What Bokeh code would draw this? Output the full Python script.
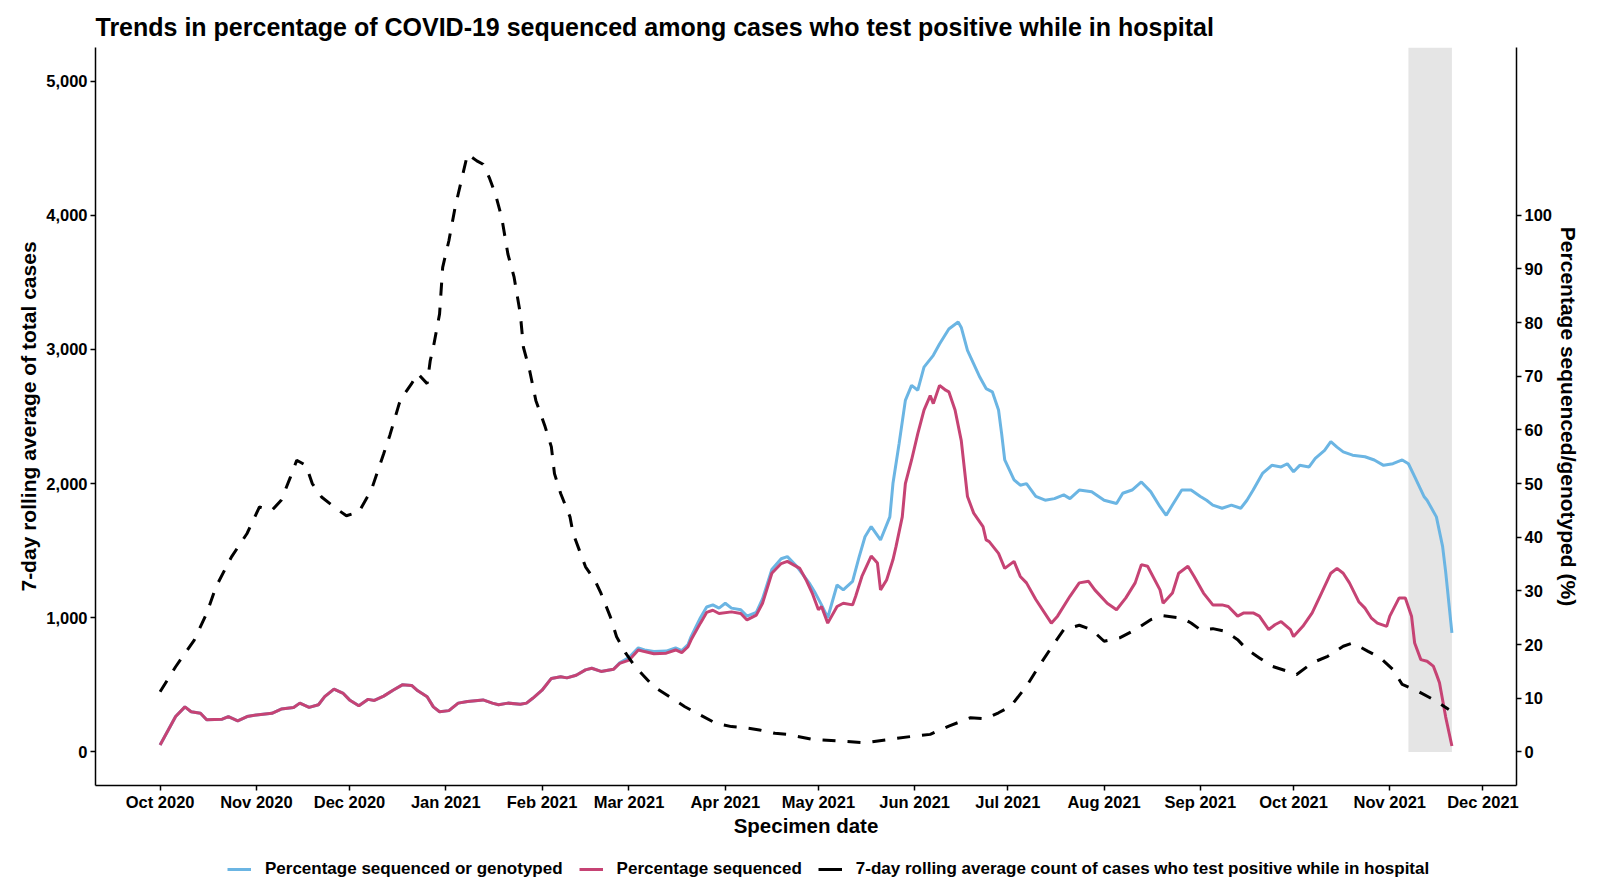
import pandas as pd
from bokeh.plotting import figure
from bokeh.layouts import column
from bokeh.models import (Range1d, LinearAxis, FixedTicker, NumeralTickFormatter,
                          DatetimeTickFormatter, Legend, LegendItem, BoxAnnotation)
from bokeh.embed import file_html
from bokeh.resources import INLINE

START = "2020-10-01"

# 7-day rolling average count of hospital-onset cases (left axis)
case_days = [0, 5, 11, 15, 18, 23, 28, 32, 36, 39, 42, 44, 47, 49, 52, 56, 60, 64, 68, 72,
             74, 77, 78, 81, 83, 86, 87, 88, 90, 91, 93, 95, 97, 99, 102, 104, 106, 108, 110,
             112, 114, 116, 117, 119, 121, 124, 126, 127, 129, 132, 133, 135, 137, 140, 142,
             145, 147, 150, 153, 156, 159, 164, 169, 174, 179, 184, 188, 193, 198, 202, 210,
             218, 227, 235, 243, 248, 254, 261, 266, 270, 274, 279, 283, 288, 291, 296, 300,
             304, 309, 314, 319, 323, 329, 332, 335, 339, 343, 347, 350, 354, 358, 363, 366,
             371, 376, 381, 384, 389, 393, 397, 400, 405, 410, 415]
case_vals = [449, 635, 834, 1032, 1231, 1454, 1628, 1826, 1800, 1876, 2050, 2174, 2136, 2000,
             1900, 1826, 1760, 1789, 1950, 2223, 2361, 2596, 2646, 2745, 2820, 2745, 2917, 3016,
             3264, 3612, 3810, 4058, 4257, 4455, 4405, 4380, 4281, 4157, 3984, 3711, 3538, 3265,
             3016, 2843, 2620, 2423, 2274, 2074, 1926, 1752, 1628, 1504, 1380, 1280, 1181, 1007,
             859, 734, 635, 561, 486, 412, 337, 275, 213, 189, 181, 164, 139, 131, 94, 82, 69,
             94, 119, 131, 193, 255, 248, 292, 342, 490, 639, 812, 911, 944, 911, 825, 850, 911,
             986, 1015, 998, 961, 911, 919, 899, 837, 763, 701, 639, 602, 577, 664, 713, 788,
             812, 750, 701, 614, 503, 453, 391, 317]

# Percentage sequenced (right axis)
seq_days = [0, 5, 8, 10, 13, 15, 20, 22, 25, 28, 31, 36, 39, 43, 45, 48, 51, 53, 56, 59, 61,
            64, 67, 69, 72, 75, 78, 81, 83, 86, 88, 90, 93, 96, 99, 104, 107, 109, 112, 116,
            118, 120, 123, 126, 129, 131, 134, 137, 139, 142, 146, 148, 151, 154, 156, 159,
            163, 166, 168, 170, 171, 174, 176, 178, 180, 184, 187, 189, 192, 194, 197, 200,
            202, 206, 208, 210, 212, 213, 215, 218, 220, 223, 224, 226, 229, 231, 232, 234,
            236, 237, 239, 240, 242, 244, 246, 248, 249, 251, 253, 254, 256, 258, 260, 262,
            265, 266, 267, 270, 272, 275, 277, 279, 282, 287, 289, 293, 296, 299, 301, 305,
            308, 311, 314, 316, 318, 322, 323, 326, 328, 331, 333, 336, 339, 342, 344, 347,
            349, 352, 354, 357, 359, 361, 364, 365, 368, 371, 374, 377, 379, 381, 383, 386,
            388, 390, 392, 395, 396, 399, 401, 403, 404, 406, 408, 410, 411, 412, 414, 416]
seq_vals = [1.3, 6.6, 8.4, 7.5, 7.2, 6.0, 6.1, 6.6, 5.8, 6.6, 6.9, 7.2, 8.0, 8.3, 9.1, 8.3,
            8.8, 10.3, 11.7, 10.9, 9.7, 8.6, 9.8, 9.6, 10.4, 11.5, 12.5, 12.4, 11.4, 10.3, 8.4,
            7.5, 7.7, 9.1, 9.4, 9.7, 9.1, 8.8, 9.1, 8.9, 9.1, 10.0, 11.5, 13.7, 14.0, 13.8,
            14.3, 15.3, 15.6, 15.0, 15.4, 16.5, 17.1, 19.0, 18.7, 18.3, 18.4, 19.0, 18.5, 19.6,
            20.9, 24.0, 26.0, 26.4, 25.8, 26.1, 25.8, 24.6, 25.5, 27.7, 33.3, 35.1, 35.5, 34.2,
            32.1, 29.6, 26.5, 27.1, 24.0, 27.1, 27.7, 27.4, 29.0, 32.7, 36.5, 35.2, 30.2, 32.1,
            35.8, 38.3, 43.8, 50.0, 54.4, 59.3, 63.7, 66.4, 64.9, 68.3, 67.4, 67.1, 63.7, 58.0,
            47.6, 44.5, 42.0, 39.5, 39.2, 37.0, 34.2, 35.5, 32.7, 31.5, 28.4, 24.0, 25.3, 29.0,
            31.5, 31.8, 30.2, 27.7, 26.5, 28.7, 31.5, 34.9, 34.6, 30.2, 27.7, 29.6, 33.3, 34.6,
            32.7, 29.6, 27.4, 27.4, 27.1, 25.3, 25.9, 25.9, 25.3, 22.8, 23.7, 24.3, 22.8, 21.5,
            23.4, 25.9, 29.6, 33.3, 34.2, 33.3, 31.5, 28.0, 26.8, 25.0, 24.0, 23.4, 25.3, 28.7,
            28.7, 25.3, 20.3, 17.2, 16.9, 16.0, 14.5, 12.9, 6.5, 1.1]

# Percentage sequenced or genotyped (right axis)
geno_days = [0, 5, 8, 10, 13, 15, 20, 22, 25, 28, 31, 36, 39, 43, 45, 48, 51, 53, 56, 59, 61,
             64, 67, 69, 72, 75, 78, 81, 83, 86, 88, 90, 93, 96, 99, 104, 107, 109, 112, 116,
             118, 120, 123, 126, 129, 131, 134, 137, 139, 142, 146, 148, 151, 154, 156, 159,
             163, 166, 168, 170, 171, 174, 176, 178, 180, 182, 184, 187, 189, 192, 194, 197,
             200, 202, 205, 209, 211, 213, 215, 218, 220, 223, 225, 227, 229, 232, 235, 236,
             238, 240, 242, 244, 246, 249, 251, 254, 257, 258, 260, 262, 264, 266, 268, 270,
             271, 272, 275, 277, 279, 282, 285, 288, 291, 293, 296, 300, 304, 308, 310, 313,
             316, 319, 322, 324, 326, 329, 332, 335, 337, 339, 342, 345, 348, 350, 352, 355,
             358, 361, 363, 365, 367, 370, 372, 375, 377, 379, 381, 384, 388, 391, 394, 397,
             400, 402, 404, 407, 408, 411, 413, 414, 416]
geno_vals = [1.3, 6.6, 8.4, 7.5, 7.2, 6.0, 6.1, 6.6, 5.8, 6.6, 6.9, 7.2, 8.0, 8.3, 9.1, 8.3,
             8.8, 10.3, 11.7, 10.9, 9.7, 8.6, 9.8, 9.6, 10.4, 11.5, 12.5, 12.4, 11.4, 10.3, 8.4,
             7.5, 7.7, 9.1, 9.4, 9.7, 9.1, 8.8, 9.1, 8.9, 9.1, 10.0, 11.5, 13.7, 14.0, 13.8,
             14.3, 15.3, 15.6, 15.0, 15.4, 16.6, 17.6, 19.4, 19.0, 18.7, 18.8, 19.4, 18.9, 20.0,
             21.5, 25.0, 27.0, 27.4, 26.8, 27.7, 26.8, 26.5, 25.3, 26.0, 28.5, 34.0, 36.0, 36.4,
             34.6, 31.5, 29.6, 27.4, 25.0, 31.1, 30.2, 31.8, 36.1, 40.1, 42.0, 39.5, 43.8, 50.0,
             57.5, 65.5, 68.3, 67.4, 71.7, 73.9, 76.0, 78.8, 80.1, 79.1, 74.8, 72.3, 69.8, 67.7,
             67.1, 63.7, 59.3, 54.4, 50.7, 49.7, 50.0, 47.6, 46.9, 47.2, 47.9, 47.2, 48.8, 48.5,
             46.9, 46.3, 48.2, 48.8, 50.3, 48.5, 45.7, 44.1, 46.0, 48.8, 48.8, 47.6, 46.9, 46.0,
             45.4, 46.0, 45.4, 46.9, 48.8, 51.9, 53.4, 53.1, 53.7, 52.2, 53.4, 53.1, 54.7, 56.2,
             57.8, 56.8, 55.9, 55.3, 55.0, 54.4, 53.4, 53.7, 54.4, 53.7, 51.3, 47.6, 46.9, 43.8,
             38.3, 33.5, 22.2]

# Shaded incomplete-data period
shade_days = [402, 416]

month_ticks = ["2020-10-01", "2020-11-01", "2020-12-01", "2021-01-01", "2021-02-01",
               "2021-03-01", "2021-04-01", "2021-05-01", "2021-06-01", "2021-07-01",
               "2021-08-01", "2021-09-01", "2021-10-01", "2021-11-01", "2021-12-01"]
left_ticks = [0, 1000, 2000, 3000, 4000, 5000]
right_ticks = [0, 10, 20, 30, 40, 50, 60, 70, 80, 90, 100]

legend_labels = ["Percentage sequenced or genotyped", "Percentage sequenced",
                 "7-day rolling average count of cases who test positive while in hospital"]

BLUE = "#6BB5E3"
PINK = "#C64374"
FONT = "Liberation Sans"
DASH = "13 12"

start = pd.Timestamp(START)
def to_dates(days):
    return [start + pd.Timedelta(days=d) for d in days]

case_x = to_dates(case_days)
seq_x = to_dates(seq_days)
geno_x = to_dates(geno_days)

x_start = start - pd.Timedelta(days=20.8)
x_end = start + pd.Timedelta(days=436.8)

W = 1583
p = figure(width=W, height=843, x_axis_type="datetime",
           x_range=Range1d(x_start, x_end), y_range=Range1d(-250, 5250),
           output_backend="svg", toolbar_location=None,
           min_border_left=95, min_border_right=63, min_border_top=47, min_border_bottom=58)
p.extra_y_ranges = {"pct": Range1d(-6.25, 131.25)}

p.title.text = "Trends in percentage of COVID-19 sequenced among cases who test positive while in hospital"
p.title.text_font = FONT
p.title.text_font_size = "25px"
p.title.text_font_style = "bold"
p.title.text_color = "black"
p.title.vertical_align = "top"
p.title.standoff = 10

p.xgrid.visible = False
p.ygrid.visible = False
p.outline_line_color = None
p.background_fill_color = "white"

ms_day = 86400000
shade = BoxAnnotation(left=start.value / 1e6 + shade_days[0] * ms_day,
                      right=start.value / 1e6 + shade_days[1] * ms_day,
                      bottom=0, fill_color="#E5E5E5", fill_alpha=1.0,
                      line_color=None, level="underlay")
p.add_layout(shade)

p.line(geno_x, geno_vals, y_range_name="pct", line_color=BLUE, line_width=3)
p.line(seq_x, seq_vals, y_range_name="pct", line_color=PINK, line_width=3)
p.line(case_x, case_vals, line_color="black", line_width=3, line_dash=DASH)

def style_axis(ax, size="16.5px"):
    ax.axis_line_color = "black"
    ax.axis_line_width = 1.5
    ax.major_tick_line_color = "black"
    ax.major_tick_line_width = 1.5
    ax.major_tick_out = 5
    ax.major_tick_in = 0
    ax.minor_tick_line_color = None
    ax.major_label_text_font = FONT
    ax.major_label_text_font_style = "bold"
    ax.major_label_text_font_size = size
    ax.major_label_text_color = "black"
    ax.major_label_standoff = 3
    ax.axis_label_text_font = FONT
    ax.axis_label_text_font_style = "bold"
    ax.axis_label_text_color = "black"

xa = p.xaxis[0]
xa.ticker = FixedTicker(ticks=[pd.Timestamp(t).value / 1e6 for t in month_ticks])
xa.formatter = DatetimeTickFormatter(days="%b %Y", months="%b %Y", years="%b %Y")
xa.axis_label = "Specimen date"
xa.axis_label_text_font_size = "20.5px"
style_axis(xa)
xa.major_label_standoff = 2
xa.axis_label_standoff = 0

ya = p.yaxis[0]
ya.ticker = FixedTicker(ticks=left_ticks)
ya.formatter = NumeralTickFormatter(format="0,0")
ya.axis_label = "7-day rolling average of total cases"
ya.axis_label_text_font_size = "21px"
style_axis(ya)
ya.axis_label_standoff = 3

ra = LinearAxis(y_range_name="pct", ticker=FixedTicker(ticks=right_ticks),
                axis_label="Percentage sequenced/genotyped (%)")
ra.axis_label_text_font_size = "21px"
style_axis(ra)
ra.axis_label_standoff = 2
p.add_layout(ra, "right")

# Legend strip below the chart (its frame is aligned with the main chart's frame)
lg = figure(width=W, height=36, x_range=Range1d(0, 1), y_range=Range1d(0, 1),
            output_backend="svg", toolbar_location=None, min_border=0,
            x_axis_location=None, y_axis_location=None)
lg.xgrid.visible = False
lg.ygrid.visible = False
lg.outline_line_color = None
nan = [float("nan")]
k1 = lg.line(x=nan, y=nan, line_color=BLUE, line_width=3)
k2 = lg.line(x=nan, y=nan, line_color=PINK, line_width=3)
k3 = lg.line(x=nan, y=nan, line_color="black", line_width=3, line_dash="24 8")
legend = Legend(items=[LegendItem(label=legend_labels[0], renderers=[k1]),
                       LegendItem(label=legend_labels[1], renderers=[k2]),
                       LegendItem(label=legend_labels[2], renderers=[k3])],
                orientation="horizontal", location=(132, 0), border_line_color=None,
                background_fill_alpha=0, label_text_font=FONT, label_text_font_style="bold",
                label_text_color="black",
                label_text_font_size="17px", glyph_width=24, label_standoff=14, spacing=16,
                padding=0, margin=0)
lg.add_layout(legend)

page = column(p, lg, spacing=0)
open("out.html", "w").write(file_html(page, INLINE))
